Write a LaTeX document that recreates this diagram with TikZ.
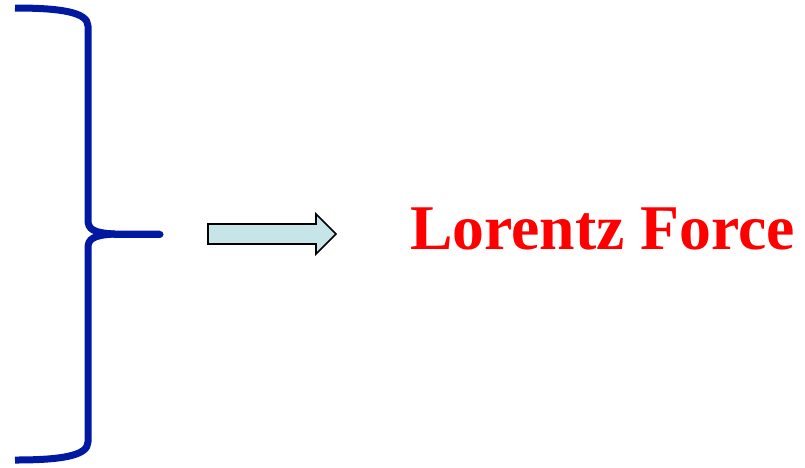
\documentclass[tikz,border=0pt]{standalone}
\usepackage{fontspec}
\setmainfont{Liberation Serif}
\definecolor{bracecol}{RGB}{0,25,160}
\definecolor{arrowfill}{RGB}{197,229,232}
\tikzset{
  bracestyle/.style={draw=bracecol, line width=7pt, line join=round},
  blockarrow/.style={draw=black, fill=arrowfill, line width=1.6pt, line join=miter},
  titletext/.style={text=red, font=\bfseries\fontsize{63.7}{70}\selectfont, inner sep=0pt, anchor=base west}
}
\begin{document}
\begin{tikzpicture}[x=1pt,y=-1pt]
\useasboundingbox (0,0) rectangle (805,467);
% brace
\coordinate (btop) at (15,8);
\coordinate (bbot) at (15,460);
\coordinate (btip) at (160,234);
\draw[bracestyle] (btop) .. controls (60,8) and (88,12) .. (88,26) -- (88,220)
  .. controls (88,229) and (93,233) .. (115,234) -- (btip);
\draw[bracestyle,line cap=round] (115,234) -- (btip);
\draw[bracestyle] (bbot) .. controls (60,460) and (88,456) .. (88,442) -- (88,248)
  .. controls (88,239) and (93,235) .. (115,234);
% block arrow
\draw[blockarrow] (208,224) -- (316,224) -- (316,214) -- (336,234) -- (316,254) -- (316,244) -- (208,244) -- cycle;
% text
\node[titletext] (lf) at (410,249) {Lorentz Force};
\end{tikzpicture}
\end{document}
